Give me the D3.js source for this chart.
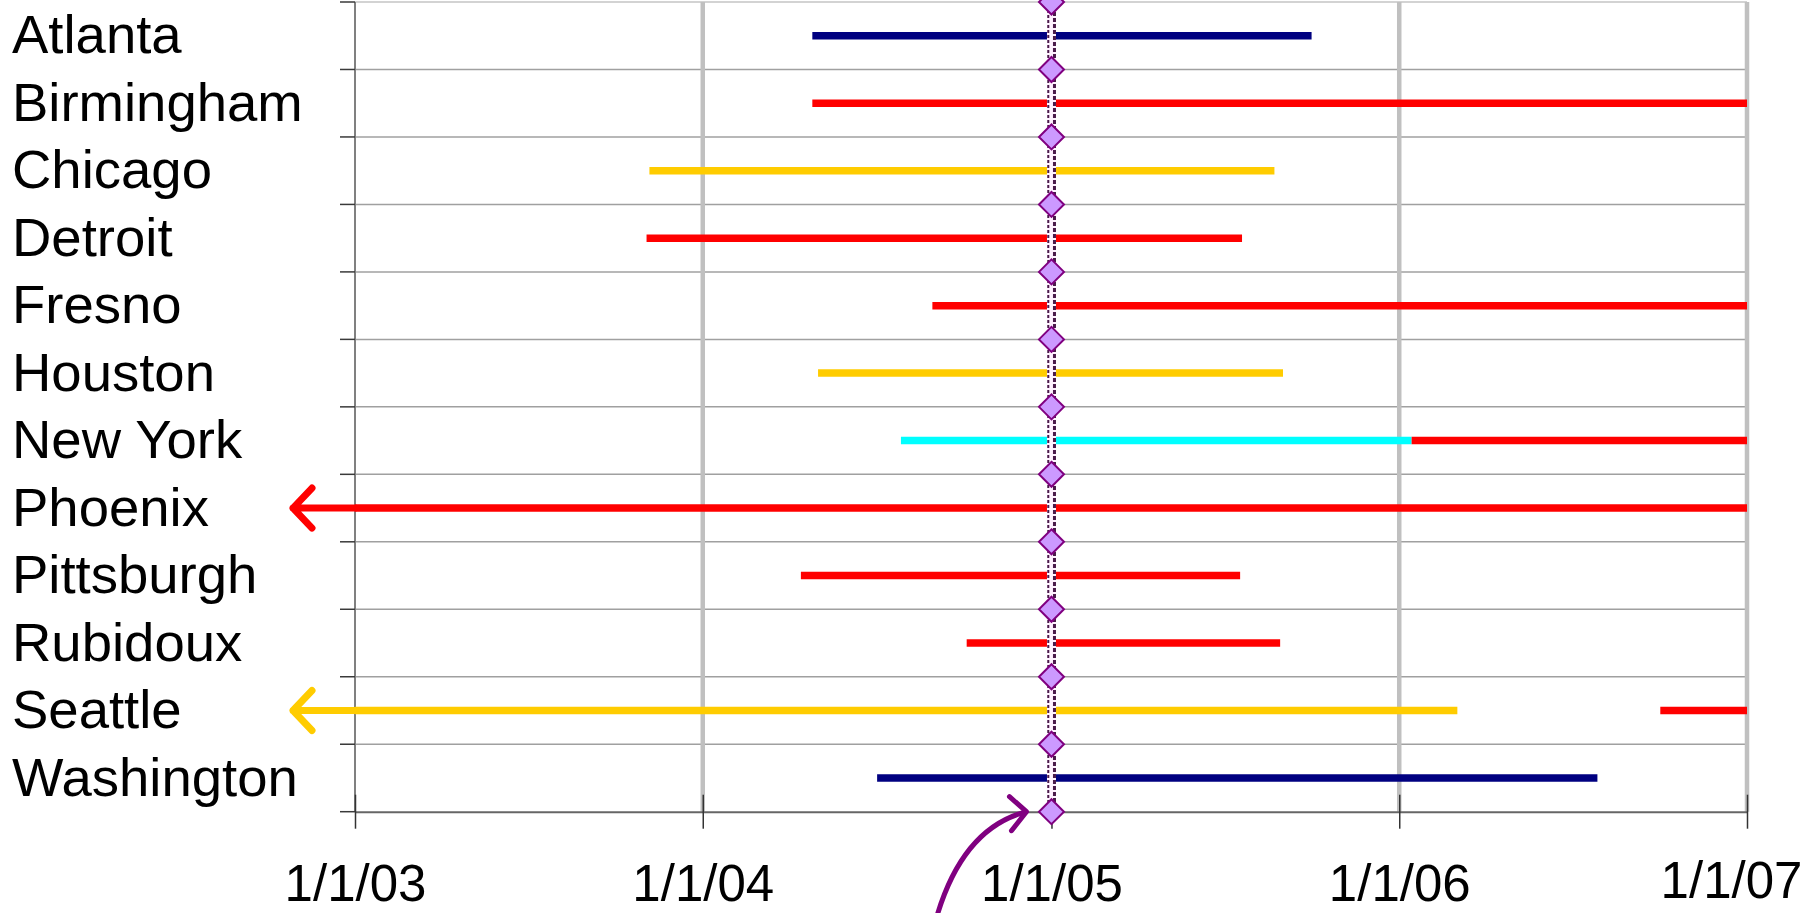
<!DOCTYPE html>
<html>
<head>
<meta charset="utf-8">
<script src="https://cdn.jsdelivr.net/npm/d3@7"></script>
<style>
  html, body { margin: 0; padding: 0; background: #ffffff; }
  svg { display: block; font-family: "Liberation Sans", Arial, sans-serif; }
</style>
</head>
<body>
<svg id="chart" width="1818" height="913"></svg>
<script>
// Monitoring sites, top to bottom
const cities = ["Atlanta", "Birmingham", "Chicago", "Detroit", "Fresno", "Houston",
                "New York", "Phoenix", "Pittsburgh", "Rubidoux", "Seattle", "Washington"];

// Operating periods: one entry per segment (site, start, end, status)
// A start earlier than the axis means the period began before 1/1/03.
const segCity   = ["Atlanta", "Birmingham", "Chicago", "Detroit", "Fresno", "Houston",
                   "New York", "New York", "Phoenix", "Pittsburgh", "Rubidoux",
                   "Seattle", "Seattle", "Washington"];
const segStart  = ["2004-04-25", "2004-04-25", "2003-11-06", "2003-11-03", "2004-08-29", "2004-05-01",
                   "2004-07-27", "2006-01-14", "2002-06-01", "2004-04-13", "2004-10-04",
                   "2002-06-01", "2006-10-02", "2004-07-02"];
const segEnd    = ["2005-10-01", "2007-01-01", "2005-08-23", "2005-07-20", "2007-01-01", "2005-09-01",
                   "2006-01-14", "2007-01-01", "2007-01-01", "2005-07-18", "2005-08-29",
                   "2006-03-03", "2007-01-01", "2006-07-28"];
const segStatus = ["navy", "red", "gold", "red", "red", "gold",
                   "cyan", "red", "red", "red", "red",
                   "gold", "red", "navy"];

const statusColor = { navy: "#000080", red: "#ff0000", gold: "#ffcc00", cyan: "#00ffff" };

// Time axis
const tickDates  = ["2003-01-01", "2004-01-01", "2005-01-01", "2006-01-01", "2007-01-01"];
const tickLabels = ["1/1/03", "1/1/04", "1/1/05", "1/1/06", "1/1/07"];
const refDate = "2005-01-01";

const parse = d3.utcParse("%Y-%m-%d");

const svg = d3.select("#chart");
const W = 1818, H = 913;
const plot = { left: 355, right: 1747, top: 2, bottom: 811.7 };

const x = d3.scaleUtc()
  .domain([parse(tickDates[0]), parse(tickDates[tickDates.length - 1])])
  .range([plot.left, plot.right]);

const y = d3.scaleBand()
  .domain(cities)
  .range([plot.top, plot.bottom])
  .padding(0);

const bw = y.bandwidth();
const boundaries = cities.map(c => y(c)).concat([plot.bottom]);

svg.append("rect").attr("width", W).attr("height", H).attr("fill", "#ffffff");

// Horizontal gridlines between site rows
svg.append("g")
  .selectAll("line")
  .data(boundaries.slice(0, -1))
  .join("line")
  .attr("x1", plot.left).attr("x2", plot.right)
  .attr("y1", d => d).attr("y2", d => d)
  .attr("stroke", (d, i) => i === 0 ? "#c4c4c4" : "#a0a0a0")
  .attr("stroke-width", 1.5);

// Vertical year gridlines
svg.append("g")
  .selectAll("line")
  .data(tickDates.slice(1).map(parse))
  .join("line")
  .attr("x1", d => x(d)).attr("x2", d => x(d))
  .attr("y1", plot.top).attr("y2", plot.bottom)
  .attr("stroke", "#c0c0c0")
  .attr("stroke-width", 4.5);

// Category axis line with tick marks at row boundaries
svg.append("line")
  .attr("x1", plot.left).attr("x2", plot.left)
  .attr("y1", plot.top).attr("y2", plot.bottom)
  .attr("stroke", "#808080").attr("stroke-width", 2);
svg.append("g")
  .selectAll("line")
  .data(boundaries)
  .join("line")
  .attr("x1", plot.left - 15).attr("x2", plot.left)
  .attr("y1", d => d).attr("y2", d => d)
  .attr("stroke", "#3a3a3a").attr("stroke-width", 1.5);

// Time axis
const xAxis = d3.axisBottom(x)
  .tickValues(tickDates.map(parse))
  .tickFormat((d, i) => tickLabels[i])
  .tickSizeInner(17)
  .tickSizeOuter(0);

const gx = svg.append("g")
  .attr("transform", `translate(0,${plot.bottom})`)
  .call(xAxis);
gx.select(".domain").attr("stroke", "#666666").attr("stroke-width", 2);
gx.selectAll(".tick line")
  .attr("y1", -17).attr("y2", 17)
  .attr("stroke", "#333333").attr("stroke-width", 1.5);
gx.selectAll(".tick text")
  .attr("fill", "#000000")
  .attr("font-size", 51)
  .attr("font-family", "Liberation Sans, Arial, sans-serif")
  .attr("dy", 0)
  .attr("y", 89.5)
  .attr("dx", (d, i) => i === tickLabels.length - 1 ? -16 : 0);
gx.selectAll(".tick").filter((d, i) => i === tickLabels.length - 1)
  .select("text").attr("y", 86.5);

// Operating-period bars
const segs = segCity.map((c, i) => ({
  city: c,
  start: parse(segStart[i]),
  end: parse(segEnd[i]),
  color: statusColor[segStatus[i]]
}));
const x0 = x.domain()[0];

svg.append("g")
  .selectAll("line")
  .data(segs)
  .join("line")
  .attr("x1", d => x(d.start < x0 ? x0 : d.start))
  .attr("x2", d => x(d.end))
  .attr("y1", d => y(d.city) + bw / 2)
  .attr("y2", d => y(d.city) + bw / 2)
  .attr("stroke", d => d.color)
  .attr("stroke-width", 7.5)
  .attr("stroke-linecap", "butt");

// Arrows for periods that began before the axis start
const open = segs.filter(d => d.start < x0);
const ag = svg.append("g")
  .selectAll("g")
  .data(open)
  .join("g")
  .attr("fill", "none")
  .attr("stroke", d => d.color)
  .attr("stroke-width", 7)
  .attr("stroke-linecap", "round")
  .attr("stroke-linejoin", "round");
ag.append("path")
  .attr("d", d => {
    const yy = y(d.city) + bw / 2, tip = x(x0) - 62;
    return `M${x(x0)},${yy}L${tip},${yy}M${tip + 19},${yy - 20}L${tip},${yy}L${tip + 19},${yy + 20}`;
  });

// Reference date line: a pale strip edged by dotted lines
const xr = x(parse(refDate));
svg.append("rect")
  .attr("x", xr - 4.5).attr("y", 0)
  .attr("width", 9).attr("height", plot.bottom)
  .attr("fill", "#fff2ff");
svg.append("line")
  .attr("x1", xr - 3.2).attr("x2", xr - 3.2)
  .attr("y1", 0).attr("y2", plot.bottom)
  .attr("stroke", "#4a1a4a").attr("stroke-width", 2)
  .attr("stroke-dasharray", "3,2");
svg.append("line")
  .attr("x1", xr + 3).attr("x2", xr + 3)
  .attr("y1", 0).attr("y2", plot.bottom)
  .attr("stroke", "#4a1a4a").attr("stroke-width", 3)
  .attr("stroke-dasharray", "4,2");

// Diamond markers on the reference date at each row boundary
svg.append("g")
  .selectAll("path")
  .data(boundaries)
  .join("path")
  .attr("d", d => `M${xr},${d - 12.5}L${xr + 12.5},${d}L${xr},${d + 12.5}L${xr - 12.5},${d}Z`)
  .attr("fill", "#cc99ff")
  .attr("stroke", "#800080")
  .attr("stroke-width", 2);

// Site labels
svg.append("g")
  .selectAll("text")
  .data(cities)
  .join("text")
  .attr("x", 12)
  .attr("y", d => y(d) + bw / 2 + 17.6)
  .attr("font-size", 54.5)
  .attr("fill", "#000000")
  .text(d => d);

// Curved pointer toward the reference date on the axis
const tipX = xr - 25, tipY = plot.bottom;
svg.append("path")
  .attr("d", `M${tipX - 90},${tipY + 106} C${tipX - 76},${tipY + 58} ${tipX - 51},${tipY + 13} ${tipX},${tipY}` +
             ` M${tipX - 17},${tipY - 15} L${tipX},${tipY} L${tipX - 15},${tipY + 19}`)
  .attr("fill", "none")
  .attr("stroke", "#800080")
  .attr("stroke-width", 5)
  .attr("stroke-linecap", "round")
  .attr("stroke-linejoin", "round");
</script>
</body>
</html>
